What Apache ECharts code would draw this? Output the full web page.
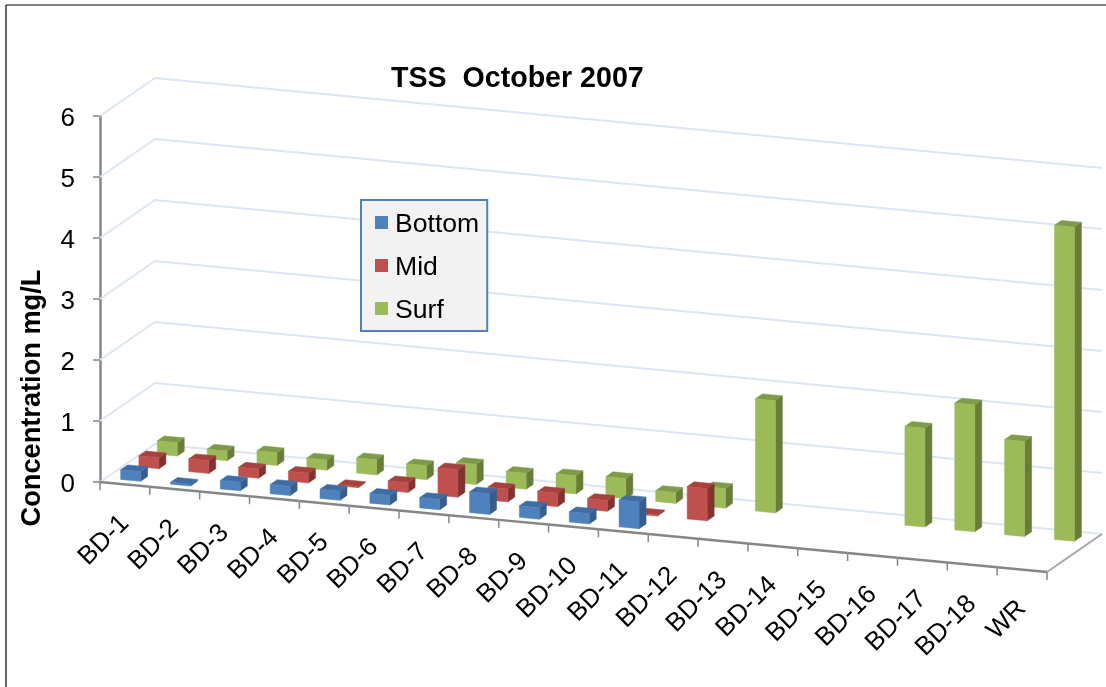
<!DOCTYPE html>
<html>
<head>
<meta charset="utf-8">
<title>TSS October 2007</title>
<script src="https://cdn.jsdelivr.net/npm/echarts@6/dist/echarts.min.js"></script>
<style>
  html, body { margin: 0; padding: 0; background: #fff; }
  #chart { width: 1106px; height: 687px; }
</style>
</head>
<body>
<div id="chart"></div>
<script>
const categories = ['BD-1','BD-2','BD-3','BD-4','BD-5','BD-6','BD-7','BD-8','BD-9','BD-10','BD-11','BD-12','BD-13','BD-14','BD-15','BD-16','BD-17','BD-18','WR'];
const yTicks = [0, 1, 2, 3, 4, 5, 6];

// null = no bar
const bottom = [0.16, 0.03, 0.14, 0.15, 0.15, 0.16, 0.17, 0.34, 0.19, 0.17, 0.44, null, null, null, null, null, null, null, null];
const mid = [0.18, 0.21, 0.15, 0.16, 0.02, 0.16, 0.45, 0.21, 0.22, 0.18, 0.02, 0.53, null, null, null, null, null, null, null];
const surf = [0.22, 0.16, 0.21, 0.17, 0.25, 0.23, 0.33, 0.26, 0.30, 0.33, 0.18, 0.32, 1.84, null, null, 1.62, 2.08, 1.56, 5.15];

const FONT = '"Liberation Sans", Arial, sans-serif';

// fake 3d: oblique projection on top of a plain cartesian grid
const SLOPE = 0.095;      // floor drop per px along the front axis
const DEPTH_X = 55;       // floor depth, screen px
const DEPTH_Y = 38;
const BAR_W = 20;
const BAR_D = 0.127;      // bar depth as a share of the floor depth

function project(api, i, v, off, depth) {
  const c = api.coord([i, v]);
  const left = api.coord([0, 0])[0] - api.size([1, 0])[0] / 2;
  const x = c[0] + off;
  return [x + depth * DEPTH_X, c[1] + SLOPE * (x - left) - depth * DEPTH_Y];
}

function poly(points, fill) {
  return { type: 'polygon', shape: { points: points }, style: { fill: fill, stroke: fill, lineWidth: 0.5 } };
}

function barSeries(name, values, depth, colors, z) {
  return {
    name: name,
    type: 'custom',
    z: z,
    silent: true,
    itemStyle: { color: colors[0] },
    encode: { x: 0, y: 1 },
    data: values.map((v, i) => [i, v]),
    renderItem: function (params, api) {
      const i = api.value(0);
      const v = api.value(1);
      if (isNaN(v)) return null;
      const h = BAR_W / 2;
      const fl0 = project(api, i, 0, -h, depth);
      const fr0 = project(api, i, 0, h, depth);
      const br0 = project(api, i, 0, h, depth + BAR_D);
      const fl = project(api, i, v, -h, depth);
      const fr = project(api, i, v, h, depth);
      const br = project(api, i, v, h, depth + BAR_D);
      const bl = project(api, i, v, -h, depth + BAR_D);
      return {
        type: 'group',
        children: [
          poly([fr0, fr, br, br0], colors[2]),
          poly([fl, fr, br, bl], colors[1]),
          poly([fl0, fr0, fr, fl], colors[0])
        ]
      };
    }
  };
}

function line(a, b, color, width) {
  return { type: 'line', shape: { x1: a[0], y1: a[1], x2: b[0], y2: b[1] }, style: { stroke: color, lineWidth: width } };
}

const myChart = echarts.init(document.getElementById('chart'));

const option = {
  animation: false,
  backgroundColor: '#fff',
  title: {
    text: 'TSS  October 2007',
    left: 391,
    top: 65,
    padding: 0,
    textStyle: { fontFamily: FONT, fontSize: 28.6, fontWeight: 'bold', color: '#000' }
  },
  legend: {
    orient: 'vertical',
    left: 361,
    top: 200,
    padding: [7, 8, 7, 14],
    itemWidth: 13,
    itemHeight: 13,
    itemGap: 12,
    icon: 'rect',
    selectedMode: false,
    backgroundColor: '#f2f2f2',
    borderColor: '#4f81bd',
    borderWidth: 2,
    data: ['Bottom', 'Mid', 'Surf'],
    formatter: '{a|{name}}',
    textStyle: {
      rich: { a: { fontFamily: FONT, fontSize: 26.6, lineHeight: 26, color: '#000', padding: [4, 0, 0, 2] } }
    }
  },
  grid: { left: 100, top: 116, width: 947, height: 366 },
  xAxis: { type: 'category', data: categories, show: false },
  yAxis: {
    type: 'value',
    min: 0,
    max: 6,
    interval: 1,
    splitLine: { show: false },
    axisLine: { show: true, lineStyle: { color: '#868686', width: 2.5 } },
    axisTick: { show: true, length: 7, lineStyle: { color: '#868686', width: 1.5 } },
    axisLabel: {
      margin: 25,
      formatter: '{a|{value}}',
      rich: { a: { fontFamily: FONT, fontSize: 26, color: '#000', padding: [6, 0, 0, 0] } }
    }
  },
  graphic: [
    {
      type: 'text',
      x: 33,
      y: 398,
      rotation: Math.PI / 2,
      style: { text: 'Concentration mg/L', fontFamily: FONT, fontSize: 27.2, fontWeight: 'bold', fill: '#000', align: 'center', verticalAlign: 'middle' }
    },
    { type: 'line', shape: { x1: 6, y1: 5, x2: 1106, y2: 5 }, style: { stroke: '#555', lineWidth: 1.5 } },
    { type: 'line', shape: { x1: 6, y1: 5, x2: 6, y2: 687 }, style: { stroke: '#333', lineWidth: 1.5 } }
  ],
  series: [
    // wall gridlines
    {
      type: 'custom',
      z: 1,
      silent: true,
      data: yTicks.map(v => [0, v]),
      encode: { x: 0, y: 1 },
      renderItem: function (params, api) {
        const v = api.value(1);
        const half = api.size([1, 0])[0] / 2;
        const last = categories.length - 1;
        return {
          type: 'polyline',
          shape: { points: [project(api, 0, v, -half, 0), project(api, 0, v, -half, 1), project(api, last, v, half, 1)] },
          style: { stroke: '#dce6f2', lineWidth: 2, fill: 'none' }
        };
      }
    },
    // front axis, its ticks and the right floor edge
    {
      type: 'custom',
      z: 2,
      silent: true,
      data: categories.map((c, i) => [i, 0]),
      encode: { x: 0, y: 1 },
      renderItem: function (params, api) {
        const i = api.value(0);
        const half = api.size([1, 0])[0] / 2;
        const a = project(api, i, 0, -half, 0);
        const b = project(api, i, 0, half, 0);
        const children = [
          line(a, b, '#868686', 2.5),
          line(a, [a[0], a[1] + 8], '#868686', 1.5)
        ];
        if (i === categories.length - 1) {
          children.push(line(b, [b[0], b[1] + 8], '#868686', 1.5));
          children.push(line(b, project(api, i, 0, half, 1), '#a6a6a6', 2));
        }
        return { type: 'group', children: children };
      }
    },
    // category labels follow the slanted axis
    {
      type: 'custom',
      z: 2,
      silent: true,
      data: categories.map((c, i) => [i, 0]),
      encode: { x: 0, y: 1 },
      renderItem: function (params, api) {
        const i = api.value(0);
        const p = project(api, i, 0, 0, 0);
        return {
          type: 'text',
          x: p[0],
          y: p[1] + 35,
          rotation: Math.PI / 4,
          style: { text: categories[i], fontFamily: FONT, fontSize: 26, fill: '#000', align: 'right', verticalAlign: 'middle' }
        };
      }
    },
    barSeries('Surf', surf, 0.77, ['#9bbb59', '#7f9a48', '#687d3b'], 5),
    barSeries('Mid', mid, 0.436, ['#c0504d', '#a5423f', '#803432'], 6),
    barSeries('Bottom', bottom, 0.104, ['#4f81bd', '#3f6ca3', '#365d8c'], 7)
  ]
};

myChart.setOption(option);
</script>
</body>
</html>
